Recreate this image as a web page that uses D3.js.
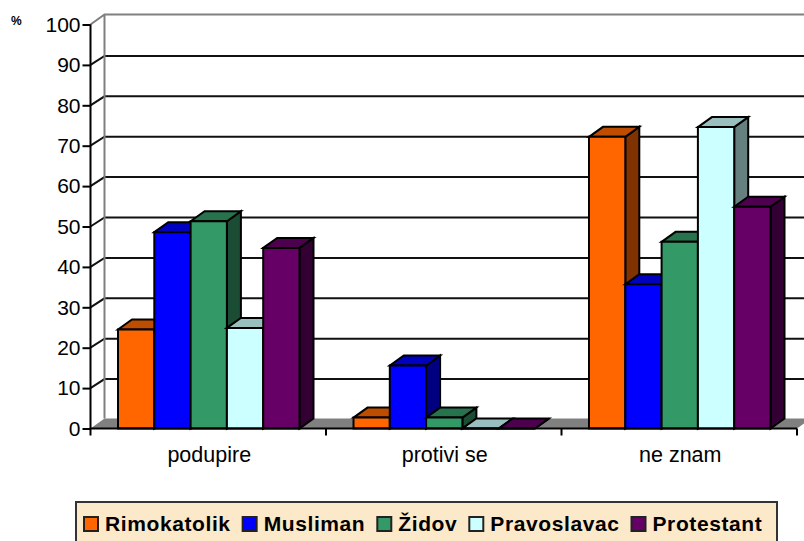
<!DOCTYPE html>
<html>

<head>
  <meta charset="utf-8">
  <style>
    html, body { margin: 0; padding: 0; background: #fff; overflow: hidden; }
    svg { display: block; font-family: "Liberation Sans", Arial, sans-serif; }
    .axis path { display: none; }
    .axis text { fill: #000; }
    .axis--y text { font-size: 21px; }
    .axis--x text { font-size: 21.5px; }
    .axis line { stroke: #000; stroke-width: 2px; }
    .grid { stroke: #111; stroke-width: 2px; }
    .bar path { stroke: #000; stroke-width: 2px; stroke-linejoin: miter; }
    .legend text { font-size: 21px; font-weight: bold; fill: #000; letter-spacing: 0.6px; }
  </style>
</head>

<body>
  <svg id="plot" width="804" height="541"></svg>

  <script src="https://cdn.jsdelivr.net/npm/d3@7"></script>
  <script>
    var categories = ["podupire", "protivi se", "ne znam"];
    var series = ["Rimokatolik", "Musliman", "Židov", "Pravoslavac", "Protestant"];
    var rimokatolik = [24.5, 2.7, 72.2];
    var musliman = [48.6, 15.6, 35.7];
    var zidov = [51.3, 2.7, 46.2];
    var pravoslavac = [24.9, 0, 74.6];
    var protestant = [44.7, 0, 54.9];
    var colors = ["#FF6600", "#0000FF", "#339966", "#CCFFFF", "#660066"];
    var yTicks = [0, 10, 20, 30, 40, 50, 60, 70, 80, 90, 100];

    var values = [rimokatolik, musliman, zidov, pravoslavac, protestant];

    var svg = d3.select("#plot"),
      depthX = 14,
      depthY = 10,
      gridDepthY = 9;

    var x = d3.scaleBand().domain(categories).range([90.5, 797]),
      x1 = d3.scaleBand().domain(series).range([27.5, 209]),
      y = d3.scaleLinear().domain([0, 100]).range([428.5, 24.5]);

    function shade(c, k) {
      var r = d3.rgb(c);
      return d3.rgb(r.r * k, r.g * k, r.b * k).formatHex();
    }

    // back wall
    var left = x.range()[0], right = x.range()[1];

    svg.selectAll(".grid")
      .data(yTicks.filter(function (d) { return d > 0 && d < 100; }))
      .enter().append("path")
      .attr("class", "grid")
      .attr("fill", "none")
      .attr("d", function (d) {
        return "M" + left + "," + y(d) + "L" + (left + depthX) + "," + (y(d) - gridDepthY) + "H" + (right + depthX);
      });

    svg.append("path")
      .attr("fill", "none")
      .attr("stroke", "#808080")
      .attr("stroke-width", 2)
      .attr("d", "M" + left + "," + y(100) + "L" + (left + depthX) + "," + (y(100) - depthY) + "H" + (right + depthX)
        + "M" + (left + depthX) + "," + (y(100) - depthY) + "V" + (y(0) - depthY));

    // floor
    svg.append("path")
      .attr("fill", "#808080")
      .attr("d", "M" + left + "," + y(0) + "L" + (left + depthX) + "," + (y(0) - depthY) + "H" + (right + depthX) + "L" + right + "," + y(0) + "Z");

    // bars, left to right so that each one covers the side of the one before
    categories.forEach(function (cat, i) {
      var group = svg.append("g").attr("class", "bar").attr("transform", "translate(" + x(cat) + ",0)");

      series.forEach(function (s, j) {
        var x0 = x1(s),
          x2 = x0 + x1.bandwidth(),
          top = y(values[j][i]),
          base = y(0),
          c = colors[j],
          bar = group.append("g");

        bar.append("path")
          .attr("fill", shade(c, 0.5))
          .attr("d", "M" + x2 + "," + top + "l" + depthX + "," + (-depthY) + "V" + (base - depthY) + "L" + x2 + "," + base + "Z");
        bar.append("path")
          .attr("fill", shade(c, 0.75))
          .attr("d", "M" + x0 + "," + top + "l" + depthX + "," + (-depthY) + "H" + (x2 + depthX) + "L" + x2 + "," + top + "Z");
        bar.append("path")
          .attr("fill", c)
          .attr("d", "M" + x0 + "," + base + "V" + top + "H" + x2 + "V" + base + "Z");
      });
    });

    // axes
    svg.append("g")
      .attr("class", "axis axis--y")
      .attr("transform", "translate(" + left + ",0)")
      .call(d3.axisLeft(y).tickValues(yTicks).tickSize(8).tickPadding(2));

    svg.append("g")
      .attr("class", "axis axis--x")
      .attr("transform", "translate(1," + y(0) + ")")
      .call(d3.axisBottom(x).tickSize(0).tickPadding(18));

    svg.append("path")
      .attr("stroke", "#000")
      .attr("stroke-width", 2)
      .attr("fill", "none")
      .attr("d", "M" + left + "," + y(100) + "V" + y(0) + "H" + right);

    svg.selectAll(".xtick")
      .data(categories.concat(["end"]))
      .enter().append("line")
      .attr("class", "xtick")
      .attr("stroke", "#000")
      .attr("stroke-width", 2)
      .attr("x1", function (d) { return d === "end" ? right : x(d); })
      .attr("x2", function (d) { return d === "end" ? right : x(d); })
      .attr("y1", y(0))
      .attr("y2", y(0) + 7);

    svg.append("text")
      .attr("x", 11)
      .attr("y", 25)
      .style("font-size", "12px")
      .style("font-weight", "bold")
      .text("%");

    // Handmade legend
    var legend = svg.append("g").attr("class", "legend");

    legend.append("rect")
      .attr("x", 76)
      .attr("y", 502)
      .attr("width", 701)
      .attr("height", 50)
      .attr("fill", "#FCE9C9")
      .attr("stroke", "#333")
      .attr("stroke-width", 2);

    var cursor = 84;
    series.forEach(function (s, j) {
      legend.append("rect")
        .attr("x", cursor)
        .attr("y", 517)
        .attr("width", 14)
        .attr("height", 14)
        .attr("fill", colors[j])
        .attr("stroke", "#222")
        .attr("stroke-width", 2);
      var label = legend.append("text")
        .attr("x", cursor + 21)
        .attr("y", 530.5)
        .text(s);
      cursor += 21 + label.node().getComputedTextLength() + 12;
    });
  </script>
</body>

</html>
